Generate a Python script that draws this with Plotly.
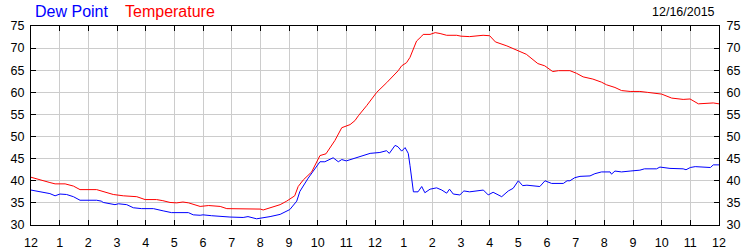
import plotly.graph_objects as go

# ---- data (hours since midnight, values in °F) ----
temp_hours = [0, 0.3, 0.66, 0.84, 1.19, 1.48, 1.71, 2.29, 2.52, 2.87, 3.22, 3.69, 3.98, 4.38, 4.6,
              4.85, 5.08, 5.3, 5.5, 5.9, 6.2, 6.6, 6.83, 7.4, 8.0, 8.1, 8.34, 8.69, 8.92, 9.2,
              9.32, 9.5, 9.79, 9.96, 10.08, 10.29, 10.43, 10.6, 10.84, 11.13, 11.3, 11.42, 11.71,
              12.06, 12.41, 12.7, 12.81, 12.93, 13.1, 13.22, 13.33, 13.45, 13.63, 13.68, 13.92,
              14.1, 14.27, 14.5, 14.85, 15.0, 15.3, 15.66, 15.77, 16.0, 16.2, 16.6, 16.86, 17.04,
              17.28, 17.68, 17.92, 18.2, 18.4, 18.8, 19.03, 19.26, 19.6, 19.9, 20.08, 20.37, 20.6,
              20.9, 21.24, 21.5, 22.0, 22.35, 22.75, 22.99, 23.28, 23.8, 24]
temperature = [40.8, 40.2, 39.6, 39.3, 39.3, 38.8, 38.0, 38.0, 37.5, 36.9, 36.6, 36.4, 35.75, 35.75, 35.5,
               35.1, 35.0, 35.2, 35.0, 34.2, 34.4, 34.2, 33.7, 33.6, 33.6, 33.4, 33.9, 34.6, 35.4, 36.6,
               38.7, 40.2, 42.0, 44.3, 45.7, 46.1, 47.5, 49.1, 52.0, 52.7, 53.6, 54.7, 57.0,
               60.0, 62.2, 64.1, 64.9, 66.0, 66.7, 67.9, 69.8, 71.6, 72.7, 73.1, 73.1,
               73.5, 73.3, 72.9, 72.9, 72.7, 72.6, 72.75, 72.9, 72.8, 71.4, 70.5, 69.8, 69.4,
               68.6, 66.5, 66.0, 64.7, 64.9, 64.9, 64.3, 63.5, 63.0, 62.3, 61.7, 61.1, 60.4,
               60.2, 60.2, 60.0, 59.6, 58.7, 58.4, 58.5, 57.4, 57.6, 57.4]

dew_hours = [0, 0.3, 0.66, 0.84, 1.01, 1.24, 1.48, 1.71, 2.29, 2.45, 2.52, 2.93, 3.05, 3.34, 3.57,
             3.86, 4.27, 4.61, 4.9, 5.49, 5.66, 5.9, 6.0, 6.3, 6.6, 6.94, 7.4, 7.57, 7.87, 8.1,
             8.34, 8.69, 9.03, 9.27, 9.38, 9.67, 10.08, 10.25, 10.54, 10.72, 10.84, 11.0, 11.36,
             11.6, 11.83, 12.17, 12.4, 12.5, 12.7, 12.8, 12.93, 13.05, 13.16, 13.22, 13.34, 13.5,
             13.63, 13.74, 13.92, 14.15, 14.33, 14.5, 14.6, 14.73, 14.96, 15.1, 15.3, 15.78, 15.95,
             16.12, 16.42, 16.65, 16.82, 17.0, 17.15, 17.3, 17.55, 17.75, 17.93, 18.16, 18.57, 18.7,
             18.8, 18.97, 19.15, 19.35, 19.5, 19.67, 19.9, 20.2, 20.25, 20.37, 20.6, 20.9, 21.24,
             21.4, 21.82, 21.94, 22.29, 22.75, 22.85, 23.0, 23.17, 23.7, 23.8, 24]
dew_point = [37.9, 37.5, 37.1, 36.6, 37.0, 36.9, 36.4, 35.6, 35.6, 35.4, 35.1, 34.6, 34.8, 34.6, 33.9,
             33.7, 33.7, 33.2, 32.8, 32.8, 32.3, 32.2, 32.3, 32.1, 31.9, 31.8, 31.7, 31.9, 31.4, 31.6,
             31.9, 32.4, 33.5, 35.4, 37.6, 40.6, 44.3, 44.3, 45.2, 44.3, 44.8, 44.5, 45.2,
             45.8, 46.2, 46.4, 46.8, 46.2, 48.0, 47.7, 46.7, 47.5, 46.2, 43.5, 37.5, 37.5,
             38.7, 37.3, 38.1, 38.4, 37.9, 37.2, 38.1, 37.0, 36.8, 37.7, 37.5, 37.9, 36.8,
             37.4, 36.4, 37.7, 38.3, 40.0, 38.9, 39.0, 38.9, 38.7, 40.0, 39.4, 39.4, 40.0,
             40.0, 40.7, 41.0, 41.0, 41.1, 41.6, 42.0, 42.0, 41.5, 42.2, 42.0, 42.2, 42.4,
             42.7, 42.7, 43.1, 42.8, 42.7, 42.5, 43.0, 43.2, 43.0, 43.6, 43.6]

x_tick_vals = list(range(0, 25))
x_tick_text = ["12", "1", "2", "3", "4", "5", "6", "7", "8", "9", "10", "11",
               "12", "1", "2", "3", "4", "5", "6", "7", "8", "9", "10", "11", "12"]
y_range = [30, 75]
date_label = "12/16/2015"
series_names = ["Dew Point", "Temperature"]

FONT = "Liberation Sans, Arial, sans-serif"

fig = go.Figure()
fig.add_trace(go.Scatter(x=dew_hours, y=dew_point, mode="lines", name=series_names[0],
                         line=dict(color="#0000ff", width=1)))
fig.add_trace(go.Scatter(x=temp_hours, y=temperature, mode="lines", name=series_names[1],
                         line=dict(color="#ff0000", width=1)))
# invisible trace to carry the right-hand axis
fig.add_trace(go.Scatter(x=temp_hours, y=temperature, mode="lines", yaxis="y2",
                         line=dict(color="rgba(0,0,0,0)", width=0), hoverinfo="skip",
                         showlegend=False))

axis_common = dict(showline=True, linecolor="black", linewidth=1, ticks="inside",
                   ticklen=5, tickcolor="black", tickwidth=1, automargin=False,
                   tickfont=dict(family=FONT, size=12.5, color="black"))

fig.update_layout(
    width=750, height=250,
    margin=dict(l=31, r=31, t=26, b=25),
    paper_bgcolor="white", plot_bgcolor="white",
    showlegend=False,
    xaxis=dict(range=[0, 24], tickmode="array", tickvals=x_tick_vals, ticktext=x_tick_text,
               showgrid=True, gridcolor="#cccccc", gridwidth=1, mirror="ticks",
               zeroline=False, ticklabelstandoff=6, **axis_common),
    yaxis=dict(range=y_range, dtick=5, tick0=30, showgrid=True, gridcolor="#cccccc",
               gridwidth=1, mirror="ticks", zeroline=False, ticklabelstandoff=3, **axis_common),
    yaxis2=dict(range=y_range, dtick=5, tick0=30, overlaying="y", side="right",
                showgrid=False, zeroline=False, ticklabelstandoff=4, **axis_common),
    annotations=[
        dict(text=series_names[0], xref="paper", yref="paper", x=2 / 688, y=1 + 14 / 199,
             xanchor="left", yanchor="middle", showarrow=False,
             font=dict(family=FONT, size=16, color="#0000ff")),
        dict(text=series_names[1], xref="paper", yref="paper", x=92 / 688, y=1 + 14 / 199,
             xanchor="left", yanchor="middle", showarrow=False,
             font=dict(family=FONT, size=16, color="#ff0000")),
        dict(text=date_label, xref="paper", yref="paper", x=686 / 688, y=1 + 14 / 199,
             xanchor="right", yanchor="middle", showarrow=False,
             font=dict(family=FONT, size=12.5, color="black")),
    ],
)

fig.write_html("out.html")
